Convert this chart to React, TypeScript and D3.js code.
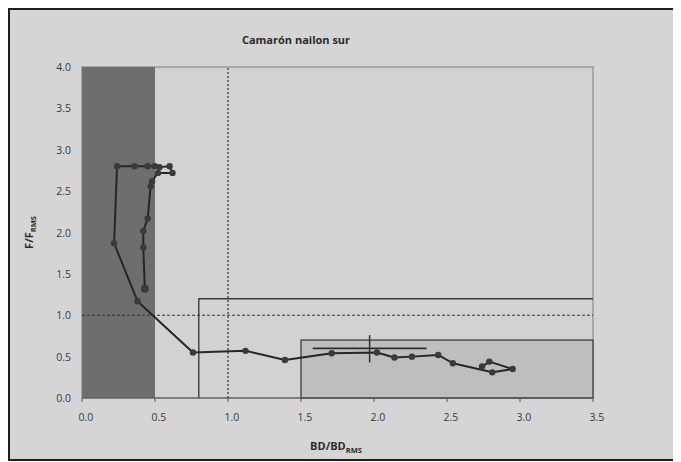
import React from "react";
import * as d3 from "d3";

// Stock trajectory: biomass ratio (BD/BD_RMS) and fishing mortality ratio (F/F_RMS)
const bdRatio = [
  2.74, 2.79, 2.95, 2.81, 2.54, 2.44, 2.26, 2.14, 2.02, 1.71, 1.39, 1.12, 0.76,
  0.38, 0.22, 0.24, 0.36, 0.45, 0.5, 0.53, 0.6, 0.62, 0.52, 0.48, 0.47, 0.45,
  0.42, 0.42, 0.43,
];
const fRatio = [
  0.38, 0.44, 0.35, 0.31, 0.42, 0.52, 0.5, 0.49, 0.55, 0.54, 0.46, 0.57, 0.55,
  1.17, 1.87, 2.8, 2.8, 2.8, 2.8, 2.79, 2.8, 2.72, 2.72, 2.62, 2.56, 2.17,
  2.02, 1.82, 1.32,
];

// Reference cross (range in BD and range in F around the current estimate)
const crossBd = [1.58, 2.36];
const crossBdCenter = 1.97;
const crossF = [0.43, 0.76];
const crossFCenter = 0.6;

// Zones
const collapseBd = [0, 0.5];
const fullBd = [0.8, 3.5];
const fullF = [0, 1.2];
const underBd = [1.5, 3.5];
const underF = [0, 0.7];
const refBd = 1.0;
const refF = 1.0;

const xTicks = [0, 0.5, 1.0, 1.5, 2.0, 2.5, 3.0, 3.5];
const yTicks = [0, 0.5, 1.0, 1.5, 2.0, 2.5, 3.0, 3.5, 4.0];

const W = 681;
const H = 462;

export default function App() {
  const x = d3.scaleLinear().domain([0, 3.5]).range([82, 593]);
  const y = d3.scaleLinear().domain([0, 4]).range([398, 67]);

  const pts = bdRatio.map((b, i) => [b, fRatio[i]] as [number, number]);
  const line = d3
    .line<[number, number]>()
    .x((d) => x(d[0]))
    .y((d) => y(d[1]));

  const font = "'Open Sans', 'DejaVu Sans', sans-serif";
  const lbl = "#3a3a3a";

  return (
    <svg
      width={W - 8}
      height={H - 8}
      style={{ display: "block", overflow: "hidden" }}
    >
      <g transform="translate(-8,-8)">
        <rect x={0} y={0} width={W} height={H} fill="#ffffff" />
        <rect x={9} y={9} width={672} height={451} fill="#d5d5d5" stroke="#1e1e1e" strokeWidth={2} />

        <text x={296} y={44} textAnchor="middle" fontFamily={font} fontWeight={700} fontSize={11} fill="#2a2a2a">
          Camarón nailon sur
        </text>

        {/* plot frame */}
        <rect x={x(0)} y={y(4)} width={x(3.5) - x(0)} height={y(0) - y(4)} fill="#d2d2d2" stroke="#8a8a8a" strokeWidth={1.2} />

        {/* collapse zone */}
        <rect
          x={x(collapseBd[0])}
          y={y(4)}
          width={x(collapseBd[1]) - x(collapseBd[0])}
          height={y(0) - y(4)}
          fill="#6e6e6e"
        />

        {/* under-exploited zone */}
        <rect
          x={x(underBd[0])}
          y={y(underF[1])}
          width={x(underBd[1]) - x(underBd[0])}
          height={y(underF[0]) - y(underF[1])}
          fill="#bebebe"
          stroke="#444"
          strokeWidth={1.4}
        />

        {/* full exploitation zone outline */}
        <path
          d={`M${x(fullBd[0])},${y(fullF[0])}V${y(fullF[1])}H${x(fullBd[1])}`}
          fill="none"
          stroke="#3c3c3c"
          strokeWidth={1.4}
        />

        {/* reference lines */}
        <line x1={x(0)} x2={x(3.5)} y1={y(refF)} y2={y(refF)} stroke="#333" strokeWidth={1.2} strokeDasharray="3,2" />
        <line x1={x(refBd)} x2={x(refBd)} y1={y(0)} y2={y(4)} stroke="#333" strokeWidth={1.2} strokeDasharray="2,2" />

        {/* axes */}
        <line x1={x(0)} x2={x(3.5)} y1={y(0)} y2={y(0)} stroke="#555" strokeWidth={1.2} />
        {xTicks.map((t) => (
          <line key={"xt" + t} x1={x(t)} x2={x(t)} y1={y(0)} y2={y(0) + 4} stroke="#555" />
        ))}
        {xTicks.map((t) => (
          <text key={"xl" + t} x={x(t) + 4} y={421} textAnchor="middle" fontFamily={font} fontSize={10.5} fill={lbl}>
            {t.toFixed(1)}
          </text>
        ))}
        {yTicks.map((t) => (
          <text key={"yl" + t} x={71} y={y(t) + 4} textAnchor="end" fontFamily={font} fontSize={10.5} fill={lbl}>
            {t.toFixed(1)}
          </text>
        ))}

        {/* trajectory */}
        <path d={line(pts) ?? ""} fill="none" stroke="#262626" strokeWidth={2} strokeLinejoin="round" />
        {pts.map((p, i) => (
          <circle key={"p" + i} cx={x(p[0])} cy={y(p[1])} r={i === pts.length - 1 ? 4 : 3.2} fill="#3a3a3a" />
        ))}

        {/* current estimate ranges */}
        <line x1={x(crossBd[0])} x2={x(crossBd[1])} y1={y(crossFCenter)} y2={y(crossFCenter)} stroke="#2e2e2e" strokeWidth={1.8} />
        <line x1={x(crossBdCenter)} x2={x(crossBdCenter)} y1={y(crossF[0])} y2={y(crossF[1])} stroke="#2e2e2e" strokeWidth={1.5} />

        {/* axis titles */}
        <text x={336} y={450} textAnchor="middle" fontFamily={font} fontWeight={700} fontSize={11} fill="#2a2a2a">
          BD/BD
          <tspan fontSize={7.5} dy={3}>RMS</tspan>
        </text>
        <text
          transform={`translate(33,${y(2.0)}) rotate(-90)`}
          textAnchor="middle"
          fontFamily={font}
          fontWeight={700}
          fontSize={11}
          fill="#2a2a2a"
        >
          F/F
          <tspan fontSize={7.5} dy={3}>RMS</tspan>
        </text>
      </g>
    </svg>
  );
}
